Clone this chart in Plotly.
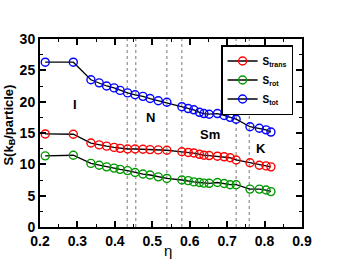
import plotly.graph_objects as go

eta = [0.214, 0.289, 0.336, 0.358, 0.378, 0.398, 0.414, 0.434, 0.454, 0.475, 0.494, 0.516, 0.539,
       0.579, 0.596, 0.611, 0.626, 0.638, 0.652, 0.674, 0.692, 0.708, 0.724, 0.761, 0.786, 0.804, 0.817]
s_trans = [14.85, 14.8, 13.4, 13.1, 12.9, 12.7, 12.55, 12.45, 12.45, 12.4, 12.35, 12.3, 12.25,
           12.0, 11.9, 11.8, 11.6, 11.45, 11.4, 11.3, 11.2, 11.05, 10.7, 10.25, 9.85, 9.75, 9.6]
s_rot = [11.35, 11.45, 10.15, 9.85, 9.6, 9.4, 9.2, 9.0, 8.7, 8.45, 8.3, 8.0, 7.75,
         7.5, 7.4, 7.2, 7.1, 7.0, 6.97, 7.1, 6.95, 6.75, 6.75, 6.05, 6.05, 5.9, 5.65]
s_tot = [26.3, 26.3, 23.5, 23.0, 22.5, 22.2, 21.8, 21.4, 21.1, 20.85, 20.5, 20.15, 19.9,
         19.2, 18.9, 18.7, 18.3, 18.1, 18.0, 18.1, 17.8, 17.5, 17.2, 16.0, 15.75, 15.5, 15.15]
series_names = ["S<sub>trans</sub>", "S<sub>rot</sub>", "S<sub>tot</sub>"]
series_colors = ["#ff0000", "#009900", "#0000ff"]
transitions = [0.433, 0.456, 0.539, 0.579, 0.724, 0.759]
phase_labels = ["I", "N", "Sm", "K"]
phase_x = [0.294, 0.494, 0.654, 0.790]
phase_y = [19.5, 17.4, 14.7, 12.45]
x_title = "η"
y_title = "S(k<sub>B</sub>/particle)"

FONT = "Liberation Sans, Arial, sans-serif"
fig = go.Figure()

for xv in transitions:
    fig.add_shape(type="line", xref="x", yref="paper", x0=xv, x1=xv, y0=0, y1=1,
                  line=dict(color="#777777", width=1, dash="dot"), layer="below")

for name, ys, col in zip(series_names, [s_trans, s_rot, s_tot], series_colors):
    fig.add_trace(go.Scatter(
        x=eta, y=ys, mode="lines+markers", name=name,
        line=dict(color="black", width=1.3),
        marker=dict(symbol="circle-open", size=8, color=col, line=dict(width=1.4, color=col)),
    ))

for lab, xv, yv in zip(phase_labels, phase_x, phase_y):
    fig.add_annotation(x=xv, y=yv, text=f"<b>{lab}</b>", showarrow=False,
                       font=dict(family=FONT, size=13, color="black"))

# axis titles
fig.add_annotation(xref="paper", yref="paper", x=-0.118, y=0.54, text=f"<b>{y_title}</b>",
                   textangle=-90, showarrow=False, xanchor="center", yanchor="middle",
                   font=dict(family=FONT, size=13, color="black"))
fig.add_annotation(xref="paper", yref="paper", x=0.489, y=-0.125, text=x_title,
                   showarrow=False, xanchor="center", yanchor="middle",
                   font=dict(family=FONT, size=15, color="black"))

axis_common = dict(
    showline=True, linecolor="black", linewidth=2, mirror="ticks",
    ticks="inside", ticklen=6, tickwidth=1.5, tickcolor="black",
    showgrid=False, zeroline=False, automargin=False,
    tickfont=dict(family=FONT, size=14, color="black", weight="bold"),
)
fig.update_xaxes(range=[0.2, 0.9], dtick=0.1, tickformat=".1f", ticklabelstandoff=0,
                 minor=dict(ticks="inside", ticklen=3, dtick=0.05, tickcolor="black", tickwidth=1.2),
                 **axis_common)
fig.update_yaxes(range=[0, 30], dtick=5,
                 minor=dict(ticks="inside", ticklen=3, dtick=2.5, tickcolor="black", tickwidth=1.2),
                 **axis_common)

fig.update_layout(
    width=351, height=268,
    margin=dict(l=40, r=49, t=39, b=41, autoexpand=False),
    plot_bgcolor="white", paper_bgcolor="white",
    showlegend=True,
    legend=dict(x=0.966, y=0.968, xanchor="right", yanchor="top",
                bgcolor="white", bordercolor="black", borderwidth=1.5,
                font=dict(family=FONT, size=10, color="black", weight="bold"),
                itemwidth=30, tracegroupgap=0),
)

fig.write_html("out.html", config={"displayModeBar": False},
               post_script="document.body.style.margin='0px';")
